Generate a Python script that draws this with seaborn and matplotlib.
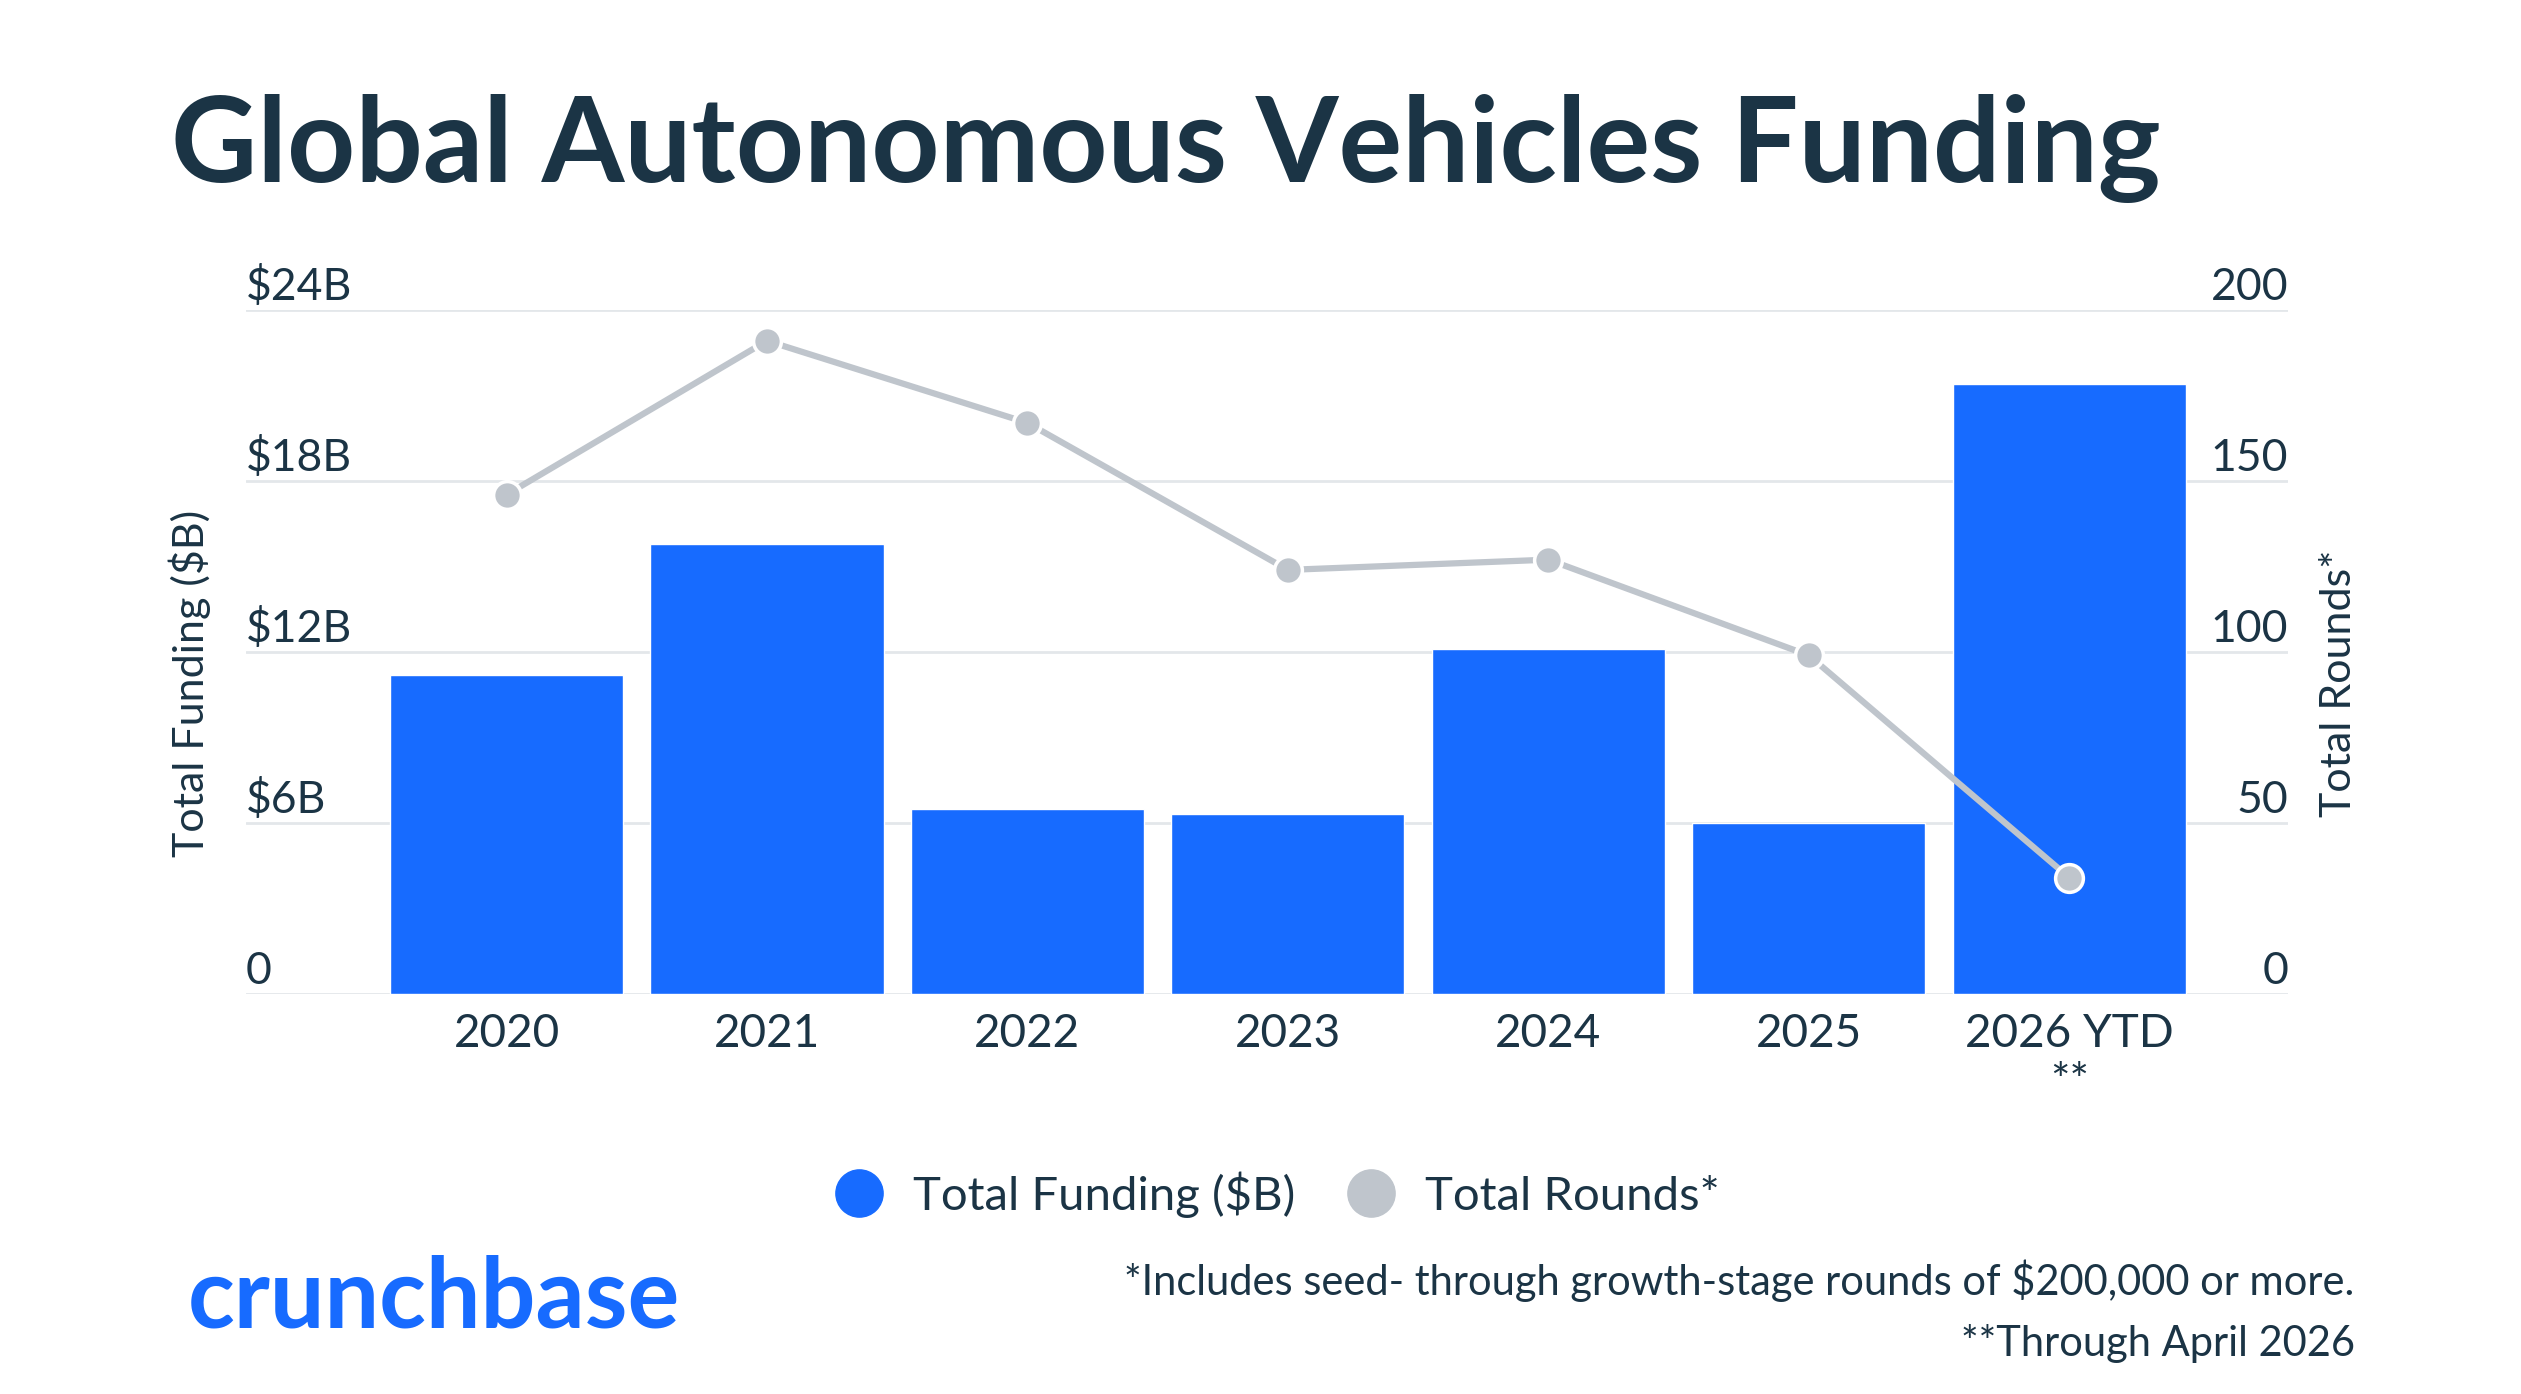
import pandas as pd
import seaborn as sns
import matplotlib.pyplot as plt
import matplotlib.transforms as mtransforms
from matplotlib.lines import Line2D

# ----- Data -----
years = ["2020", "2021", "2022", "2023", "2024", "2025", "2026 YTD\n**"]
funding_b = [11.2, 15.8, 6.5, 6.3, 12.1, 6.0, 21.4]
rounds = [146, 191, 167, 124, 127, 99, 34]
funding_ticks = [0, 6, 12, 18, 24]
funding_tick_labels = ["0", "$6B", "$12B", "$18B", "$24B"]
round_ticks = [0, 50, 100, 150, 200]
round_tick_labels = ["0", "50", "100", "150", "200"]

# ----- Style -----
BLUE = "#176BFF"
GRAY = "#BFC5CC"
NAVY = "#1B3445"
GRID = "#E3E7EA"

sns.set_theme(style="white")
plt.rcParams["font.family"] = ["Lato", "DejaVu Sans"]

df = pd.DataFrame({"year": years, "funding": funding_b, "rounds": rounds})

fig = plt.figure(figsize=(25.21, 13.94), dpi=100)
ax = fig.add_axes([0.0976, 0.287, 0.81, 0.4906])

# ----- Bars -----
sns.barplot(data=df, x="year", y="funding", color=BLUE, saturation=1,
            width=0.895, ax=ax, zorder=2)
ax.set_ylim(0, 24)
ax.set_yticks(funding_ticks)
ax.yaxis.grid(True, color=GRID, lw=2)
ax.set_axisbelow(True)
ax.set_xlabel("")
ax.set_ylabel("")
ax.tick_params(axis="y", length=0, labelleft=False)
ax.tick_params(axis="x", length=0, labelsize=33, colors=NAVY, pad=14)
for s in ax.spines.values():
    s.set_visible(False)

# ----- Line (rounds) -----
ax2 = ax.twinx()
sns.pointplot(data=df, x="year", y="rounds", ax=ax2, color=GRAY,
              markers="o", markersize=20, linewidth=4.5,
              markeredgecolor="white", markeredgewidth=2.5)
ax2.set_ylim(0, 200)
ax2.set_yticks(round_ticks)
ax2.set_ylabel("")
ax2.tick_params(axis="y", length=0, labelright=False)
for s in ax2.spines.values():
    s.set_visible(False)
ax.set_xlim(-1.0, 6.84)
ax2.set_xlim(-1.0, 6.84)

# tick labels sitting on top of the gridlines
left_tr = mtransforms.offset_copy(
    mtransforms.blended_transform_factory(ax.transAxes, ax.transData), fig, y=10, units="dots")
for v, lab in zip(funding_ticks, funding_tick_labels):
    ax.text(0, v, lab, transform=left_tr, ha="left", va="baseline", fontsize=32, color=NAVY)
right_tr = mtransforms.offset_copy(
    mtransforms.blended_transform_factory(ax2.transAxes, ax2.transData), fig, y=10, units="dots")
for v, lab in zip(round_ticks, round_tick_labels):
    ax2.text(1, v, lab, transform=right_tr, ha="right", va="baseline", fontsize=32, color=NAVY)

# axis titles
fig.text(0.0754, 0.51, "Total Funding ($B)", rotation=90, ha="center", va="center",
         fontsize=31, color=NAVY)
fig.text(0.9278, 0.51, "Total Rounds*", rotation=90, ha="center", va="center",
         fontsize=31, color=NAVY)

# ----- Title -----
title = fig.text(0.068, 0.8694, "Global Autonomous Vehicles Funding", fontsize=86,
                 fontweight="bold", color=NAVY, ha="left", va="baseline")

# ----- Legend -----
handles = [
    Line2D([], [], ls="", marker="o", markersize=34, markerfacecolor=BLUE, markeredgecolor=BLUE),
    Line2D([], [], ls="", marker="o", markersize=34, markerfacecolor=GRAY, markeredgecolor=GRAY),
]
fig.legend(handles, ["Total Funding ($B)", "Total Rounds*"], loc="center",
           bbox_to_anchor=(0.502, 0.143), ncol=2, frameon=False, fontsize=34,
           labelcolor=NAVY, handletextpad=0.15, columnspacing=0.6)

# ----- Footer -----
logo = fig.text(0.0746, 0.068, "crunchbase", fontsize=64, fontweight="bold",
                color=BLUE, ha="left", va="center")
fig.text(0.934, 0.081, "*Includes seed- through growth-stage rounds of $200,000 or more.",
         ha="right", va="center", fontsize=30, color=NAVY)
fig.text(0.934, 0.036, "**Through April 2026", ha="right", va="center",
         fontsize=30, color=NAVY)

# fit title / logo widths to the reference
fig.canvas.draw()
r = fig.canvas.get_renderer()
for t, target in [(title, 1990), (logo, 492)]:
    w = t.get_window_extent(r).width
    t.set_fontsize(t.get_fontsize() * target / w)

fig.savefig("out.png", dpi=100, facecolor="white")
